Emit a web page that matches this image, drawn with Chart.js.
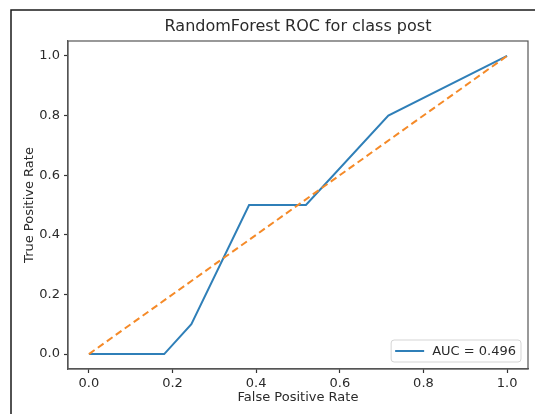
<!DOCTYPE html>
<html>
<head>
<meta charset="utf-8">
<script src="https://cdn.jsdelivr.net/npm/chart.js@4.4.1/dist/chart.umd.min.js"></script>
<style>
  html, body { margin: 0; padding: 0; background: #ffffff; }
  canvas { display: block; }
</style>
</head>
<body>
<canvas id="c" width="535" height="414"></canvas>
<script>
// ---- data ----
const titleText = "RandomForest ROC for class post";
const xAxisLabel = "False Positive Rate";
const yAxisLabel = "True Positive Rate";
const rocFpr = [0, 0.18, 0.245, 0.383, 0.519, 0.716, 1.0];
const rocTpr = [0, 0, 0.1, 0.5, 0.5, 0.8, 1.0];
const diagFpr = [0, 1];
const diagTpr = [0, 1];
const rocLabel = "AUC = 0.496";
const xTicks = [0.0, 0.2, 0.4, 0.6, 0.8, 1.0];
const yTicks = [0.0, 0.2, 0.4, 0.6, 0.8, 1.0];

const FONT = "'DejaVu Sans', 'Liberation Sans', sans-serif";
const TEXT = "#2a2a2a";

const rocPts = rocFpr.map((x, i) => ({ x: x, y: rocTpr[i] }));
const diagPts = diagFpr.map((x, i) => ({ x: x, y: diagTpr[i] }));

const decorPlugin = {
  id: 'decor',
  beforeDraw(chart) {
    const ctx = chart.ctx;
    ctx.save();
    ctx.fillStyle = '#ffffff';
    ctx.fillRect(0, 0, chart.width, chart.height);
    ctx.restore();
  },
  afterDraw(chart) {
    const ctx = chart.ctx;
    const a = chart.chartArea;
    ctx.save();
    // outer frame (left and top)
    ctx.strokeStyle = '#1a1a1a';
    ctx.lineWidth = 1.5;
    ctx.beginPath();
    ctx.moveTo(11, 414);
    ctx.lineTo(11, 10);
    ctx.lineTo(535, 10);
    ctx.stroke();
    // plot box
    ctx.strokeStyle = '#555';
    ctx.lineWidth = 1.2;
    ctx.strokeRect(a.left, a.top, a.right - a.left, a.bottom - a.top);
    // title
    ctx.fillStyle = TEXT;
    ctx.font = "16px " + FONT;
    ctx.textAlign = 'center';
    ctx.textBaseline = 'middle';
    ctx.fillText(titleText, (a.left + a.right) / 2, 27);
    // legend (lower right, inside axes)
    const ds = chart.data.datasets[0];
    ctx.font = "13px " + FONT;
    const tw = ctx.measureText(ds.label).width;
    const pad = 4, handle = 29, gap = 8;
    const w = pad + handle + gap + tw + pad + 1;
    const h = 22;
    const right = a.right - 7, bottom = a.bottom - 7;
    const left = right - w, top = bottom - h;
    ctx.beginPath();
    if (ctx.roundRect) ctx.roundRect(left, top, w, h, 3); else ctx.rect(left, top, w, h);
    ctx.fillStyle = 'rgba(255,255,255,0.8)';
    ctx.fill();
    ctx.strokeStyle = '#d5d5d5';
    ctx.lineWidth = 1;
    ctx.stroke();
    const cy = top + h / 2;
    ctx.strokeStyle = ds.borderColor;
    ctx.lineWidth = 2;
    ctx.beginPath();
    ctx.moveTo(left + pad, cy);
    ctx.lineTo(left + pad + handle, cy);
    ctx.stroke();
    ctx.fillStyle = TEXT;
    ctx.textAlign = 'left';
    ctx.textBaseline = 'middle';
    ctx.fillText(ds.label, left + pad + handle + gap, cy + 0.5);
    ctx.restore();
  }
};

new Chart(document.getElementById('c'), {
  type: 'scatter',
  data: {
    datasets: [
      {
        label: rocLabel,
        data: rocPts,
        showLine: true,
        borderColor: '#2f7fb8',
        backgroundColor: '#2f7fb8',
        borderWidth: 2,
        pointRadius: 0,
        tension: 0,
        order: 2
      },
      {
        label: 'chance',
        data: diagPts,
        showLine: true,
        borderColor: '#f58a28',
        backgroundColor: '#f58a28',
        borderWidth: 2,
        borderDash: [7, 4],
        pointRadius: 0,
        tension: 0,
        order: 1
      }
    ]
  },
  options: {
    responsive: false,
    animation: false,
    layout: { padding: { left: 12, top: 41, right: 7, bottom: 0 } },
    plugins: {
      legend: { display: false },
      tooltip: { enabled: false },
      title: { display: false }
    },
    scales: {
      x: {
        type: 'linear',
        min: -0.05,
        max: 1.05,
        afterBuildTicks(scale) { scale.ticks = xTicks.map(v => ({ value: v })); },
        afterFit(scale) { scale.height = 45; },
        ticks: {
          callback: v => Number(v).toFixed(1),
          color: TEXT,
          font: { family: FONT, size: 13 },
          padding: 3,
          maxRotation: 0
        },
        grid: { display: true, drawOnChartArea: false, drawTicks: true, tickLength: 4, tickColor: '#333', tickWidth: 1.2 },
        border: { display: true, color: '#555', width: 1.2 },
        title: {
          display: true,
          text: xAxisLabel,
          color: TEXT,
          font: { family: FONT, size: 13 },
          padding: { top: 0, bottom: 9 }
        }
      },
      y: {
        type: 'linear',
        min: -0.05,
        max: 1.05,
        afterBuildTicks(scale) { scale.ticks = yTicks.map(v => ({ value: v })); },
        afterFit(scale) { scale.width = 56; },
        ticks: {
          callback: v => Number(v).toFixed(1),
          color: TEXT,
          font: { family: FONT, size: 13 },
          padding: 4
        },
        grid: { display: true, drawOnChartArea: false, drawTicks: true, tickLength: 4, tickColor: '#333', tickWidth: 1.2 },
        border: { display: true, color: '#555', width: 1.2 },
        title: {
          display: true,
          text: yAxisLabel,
          color: TEXT,
          font: { family: FONT, size: 13 },
          padding: { top: 10, bottom: 0 }
        }
      }
    }
  },
  plugins: [decorPlugin]
});
</script>
</body>
</html>
